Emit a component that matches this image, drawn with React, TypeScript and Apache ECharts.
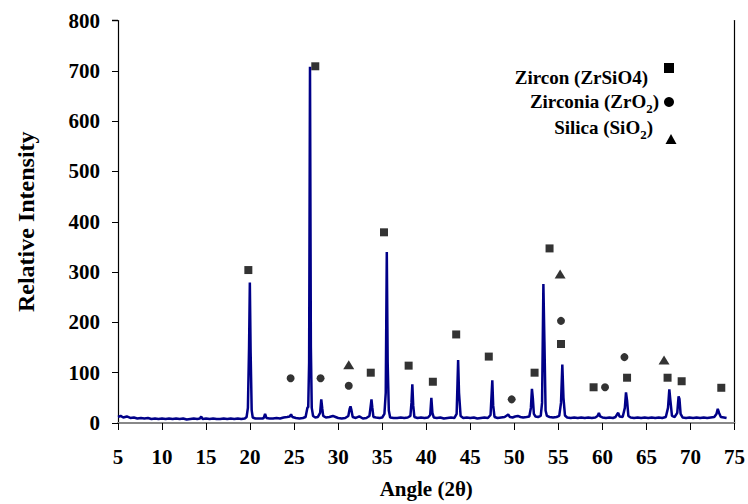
import React, { useEffect, useRef } from "react";
import * as echarts from "echarts";

// XRD pattern: [angle 2θ, relative intensity]
const pattern: [number, number][] = [
  [5.0, 12], [5.3, 14], [5.6, 11], [6.0, 13], [6.4, 10], [6.8, 11], [7.2, 9], [7.6, 10], [8.0, 9], [8.4, 10],
  [8.8, 8], [9.2, 9], [9.6, 8], [10.0, 9], [10.4, 8], [10.8, 9], [11.2, 8], [11.6, 9], [12.0, 8], [12.4, 9],
  [12.8, 7], [13.2, 8], [13.6, 9], [14.0, 8], [14.3, 9], [14.45, 13], [14.6, 8], [15.0, 9], [15.4, 8], [15.8, 9],
  [16.2, 8], [16.6, 8], [17.0, 9], [17.4, 8], [17.8, 9], [18.2, 8], [18.6, 9], [19.0, 8], [19.4, 9], [19.6, 12],
  [19.75, 30], [19.88, 150], [19.97, 279], [20.06, 140], [20.18, 25], [20.3, 11], [20.6, 9], [21.0, 9], [21.4, 9],
  [21.55, 10], [21.7, 18], [21.85, 10], [22.2, 9], [22.6, 9], [23.0, 10], [23.4, 9], [23.8, 11], [24.2, 12],
  [24.5, 13], [24.65, 17], [24.8, 12], [25.2, 10], [25.6, 9], [26.0, 10], [26.3, 12], [26.5, 30], [26.6, 32],
  [26.7, 120], [26.8, 708], [26.9, 150], [27.0, 30], [27.15, 14], [27.4, 11], [27.7, 12], [27.95, 20], [28.08, 47],
  [28.2, 28], [28.3, 14], [28.6, 11], [29.0, 12], [29.4, 14], [29.7, 12], [30.0, 10], [30.4, 9], [30.8, 10],
  [31.15, 14], [31.3, 28], [31.4, 33], [31.5, 26], [31.65, 12], [32.0, 10], [32.4, 13], [32.8, 9], [33.2, 10],
  [33.55, 14], [33.7, 35], [33.78, 47], [33.88, 30], [34.0, 12], [34.3, 11], [34.7, 10], [35.0, 11], [35.25, 18],
  [35.4, 60], [35.52, 340], [35.62, 120], [35.75, 25], [35.9, 11], [36.3, 10], [36.7, 10], [37.1, 11], [37.5, 10],
  [37.9, 11], [38.2, 14], [38.32, 40], [38.42, 77], [38.52, 35], [38.65, 12], [39.0, 10], [39.4, 11], [39.8, 10],
  [40.2, 11], [40.45, 16], [40.58, 50], [40.7, 20], [40.85, 11], [41.2, 10], [41.6, 11], [42.0, 9], [42.4, 10],
  [42.8, 11], [43.2, 10], [43.45, 18], [43.55, 80], [43.62, 125], [43.72, 60], [43.9, 14], [44.2, 10], [44.6, 11],
  [45.0, 10], [45.4, 11], [45.8, 9], [46.2, 10], [46.6, 11], [47.0, 10], [47.3, 16], [47.43, 60], [47.5, 85],
  [47.6, 35], [47.75, 12], [48.1, 10], [48.5, 11], [48.9, 12], [49.15, 15], [49.3, 17], [49.5, 12], [49.8, 11],
  [50.1, 13], [50.4, 14], [50.7, 12], [51.0, 11], [51.4, 12], [51.7, 13], [51.88, 30], [52.0, 68], [52.1, 50],
  [52.22, 18], [52.4, 13], [52.7, 12], [53.0, 14], [53.15, 40], [53.3, 276], [53.42, 160], [53.55, 25], [53.7, 14],
  [54.0, 12], [54.4, 11], [54.8, 12], [55.1, 14], [55.3, 40], [55.45, 116], [55.58, 50], [55.75, 15], [56.0, 11],
  [56.4, 10], [56.8, 11], [57.2, 10], [57.6, 11], [58.0, 10], [58.4, 11], [58.8, 10], [59.2, 11], [59.45, 14],
  [59.6, 20], [59.75, 13], [60.0, 11], [60.4, 10], [60.8, 11], [61.2, 10], [61.5, 12], [61.7, 18], [61.8, 20],
  [61.95, 13], [62.3, 12], [62.55, 30], [62.68, 61], [62.8, 45], [62.95, 14], [63.2, 11], [63.6, 10], [64.0, 11],
  [64.4, 10], [64.8, 11], [65.2, 10], [65.6, 11], [66.0, 10], [66.4, 11], [66.8, 10], [67.2, 12], [67.45, 30],
  [67.6, 67], [67.72, 45], [67.9, 14], [68.2, 12], [68.5, 20], [68.65, 53], [68.75, 48], [68.88, 18], [69.1, 11],
  [69.5, 10], [69.9, 11], [70.3, 10], [70.7, 11], [71.1, 10], [71.5, 11], [71.9, 10], [72.3, 11], [72.7, 12],
  [72.95, 18], [73.1, 28], [73.25, 20], [73.45, 12], [73.8, 11], [74.1, 10],
];

// Phase markers
const zirconMarks: [number, number][] = [
  [19.8, 304], [27.4, 709], [33.7, 100], [35.2, 379], [38.0, 114], [40.75, 82], [43.4, 176], [47.1, 132],
  [52.3, 100], [54.0, 347], [55.3, 157], [59.0, 71], [62.8, 90], [67.4, 90], [69.0, 83], [73.5, 70],
];
const zirconiaMarks: [number, number][] = [
  [24.6, 89], [28.0, 89], [31.2, 74], [49.7, 47], [55.3, 203], [60.3, 71], [62.5, 131],
];
const silicaMarks: [number, number][] = [
  [31.2, 116], [55.2, 296], [67.0, 125],
];

const FONT = "'Liberation Serif', 'Times New Roman', serif";

export default function App() {
  const ref = useRef<HTMLDivElement>(null);
  useEffect(() => {
    if (!ref.current) return;
    const chart = echarts.init(ref.current, undefined, { renderer: "svg" });
    const bold = { fontFamily: FONT, fontWeight: "bold" as const, color: "#000" };
    const richStyle = (fs: number) => ({
      a: { fontFamily: FONT, fontWeight: "bold", fontSize: fs, fill: "#000", verticalAlign: "bottom" },
      s: { fontFamily: FONT, fontWeight: "bold", fontSize: 13, fill: "#000", verticalAlign: "bottom", padding: [0, 0, -4, 0] },
    });
    chart.setOption({
      animation: false,
      backgroundColor: "#fff",
      grid: { left: 118, right: 13, top: 20.5, bottom: 75.7 },
      xAxis: [
        {
          type: "value",
          min: 5,
          max: 75,
          interval: 5,
          name: "Angle (2θ)",
          nameLocation: "middle",
          nameGap: 55,
          nameTextStyle: { ...bold, fontSize: 21 },
          axisLine: { show: true, onZero: false, lineStyle: { color: "#000", width: 1.2 } },
          axisTick: { show: true, length: 7, lineStyle: { color: "#000" } },
          axisLabel: { margin: 23, fontSize: 21, ...bold },
          splitLine: { show: false },
        },
        {
          type: "value",
          position: "top",
          min: 5,
          max: 75,
          axisLine: { show: true, lineStyle: { color: "#888", width: 2 } },
          axisTick: { show: false },
          axisLabel: { show: false },
          splitLine: { show: false },
        },
      ],
      yAxis: [
        {
          type: "value",
          min: 0,
          max: 800,
          interval: 100,
          name: "Relative Intensity",
          nameLocation: "middle",
          nameGap: 80,
          nameTextStyle: { ...bold, fontSize: 24 },
          axisLine: { show: true, lineStyle: { color: "#000", width: 1.2 } },
          axisTick: { show: true, length: 6, lineStyle: { color: "#000" } },
          axisLabel: { margin: 18, fontSize: 21, ...bold },
          splitLine: { show: false },
        },
        {
          type: "value",
          position: "right",
          min: 0,
          max: 800,
          axisLine: { show: true, lineStyle: { color: "#000", width: 1.2 } },
          axisTick: { show: false },
          axisLabel: { show: false },
          splitLine: { show: false },
        },
      ],
      series: [
        {
          type: "line",
          data: pattern,
          showSymbol: false,
          symbol: "none",
          lineStyle: { color: "#000088", width: 2.5 },
          z: 2,
        },
        {
          type: "scatter",
          data: zirconMarks,
          symbol: "rect",
          symbolSize: 8,
          itemStyle: { color: "#000" },
          z: 3,
        },
        {
          type: "scatter",
          data: zirconiaMarks,
          symbol: "circle",
          symbolSize: 8,
          itemStyle: { color: "#000" },
          z: 3,
        },
        {
          type: "scatter",
          data: silicaMarks,
          symbol: "triangle",
          symbolSize: [11, 9],
          itemStyle: { color: "#000" },
          z: 3,
        },
      ],
      graphic: [
        {
          type: "text",
          x: 648,
          y: 77,
          style: {
            text: "Zircon (ZrSiO4)",
            font: `bold 19px ${FONT}`,
            fill: "#000",
            align: "right",
            verticalAlign: "middle",
          },
        },
        {
          type: "text",
          x: 659,
          y: 101,
          style: {
            text: "{a|Zirconia (ZrO}{s|2}{a|)}",
            align: "right",
            verticalAlign: "middle",
            rich: richStyle(19),
          },
        },
        {
          type: "text",
          x: 653,
          y: 127,
          style: {
            text: "{a|Silica (SiO}{s|2}{a|)}",
            align: "right",
            verticalAlign: "middle",
            rich: richStyle(19),
          },
        },
        { type: "rect", shape: { x: 664, y: 63, width: 10, height: 10 }, style: { fill: "#000" } },
        { type: "circle", shape: { cx: 669, cy: 102, r: 5 }, style: { fill: "#000" } },
        {
          type: "polygon",
          shape: { points: [[671, 134], [676.5, 144], [665.5, 144]] },
          style: { fill: "#000" },
        },
        {
          type: "line",
          shape: { x1: 112, y1: 20.5, x2: 118, y2: 20.5 },
          style: { stroke: "#888", lineWidth: 2 },
        },
      ],
    });
    return () => chart.dispose();
  }, []);
  return (
    <div
      ref={ref}
      style={{ position: "absolute", left: 0, top: 0, width: 748, height: 504 }}
    />
  );
}
